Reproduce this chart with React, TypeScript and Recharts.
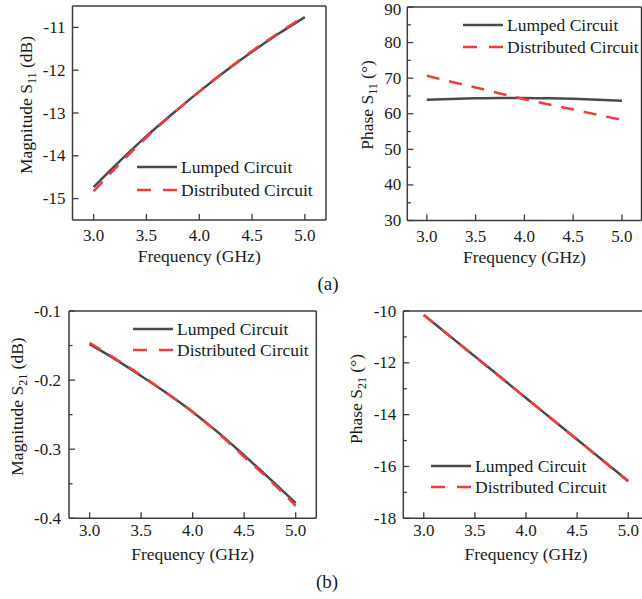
import React from "react";
import { LineChart, Line, XAxis, YAxis, ReferenceLine, Legend } from "recharts";

// frequency points (GHz)
const freq = [3.0, 3.25, 3.5, 3.75, 4.0, 4.25, 4.5, 4.75, 5.0];

// (a) S11
const s11MagLumped = [-14.73, -14.12, -13.54, -13.01, -12.5, -12.02, -11.57, -11.15, -10.76];
const s11MagDist = [-14.83, -14.18, -13.57, -13.02, -12.5, -12.01, -11.55, -11.13, -10.73];
const s11PhaseLumped = [63.9, 64.15, 64.35, 64.45, 64.45, 64.35, 64.2, 63.95, 63.65];
const s11PhaseDist = [70.7, 69.0, 67.4, 65.7, 64.1, 62.6, 61.2, 59.7, 58.3];

// (b) S21
const s21MagLumped = [-0.148, -0.17, -0.194, -0.219, -0.246, -0.276, -0.309, -0.343, -0.378];
const s21MagDist = [-0.146, -0.169, -0.193, -0.219, -0.246, -0.277, -0.311, -0.345, -0.382];
const s21PhaseLumped = [-10.15, -10.95, -11.75, -12.55, -13.36, -14.16, -14.96, -15.76, -16.56];
const s21PhaseDist = [-10.16, -10.96, -11.76, -12.56, -13.36, -14.16, -14.96, -15.77, -16.58];

const seriesNames = ["Lumped Circuit", "Distributed Circuit"];

// ticks
const freqTicks = [3.0, 3.5, 4.0, 4.5, 5.0];
const s11MagTicks = [-15, -14, -13, -12, -11];
const s11MagMinor: number[] = [];
const s11PhaseTicks = [30, 40, 50, 60, 70, 80, 90];
const s11PhaseMinor = [35, 45, 55, 65, 75, 85];
const s21MagTicks = [-0.4, -0.3, -0.2, -0.1];
const s21MagMinor = [-0.35, -0.25, -0.15];
const s21PhaseTicks = [-18, -16, -14, -12, -10];
const s21PhaseMinor = [-17, -15, -13, -11];

const FONT = "'Liberation Serif', 'Times New Roman', serif";
const AXIS = "#3c3c3c";
const TEXT = "#1a1a1a";
const LUMPED = "#4a4a4a";
const DIST = "#f03c3c";

const isMajor = (majors: number[], v: number) => majors.some((m) => Math.abs(m - v) < 1e-9);

function makeYTick(majors: number[], fmt: (v: number) => string, gap: number) {
  return (props: any) => {
    const { x, y, payload } = props;
    const v = payload.value;
    const major = isMajor(majors, v);
    return (
      <g>
        <line x1={x} x2={x + (major ? 6 : 3.5)} y1={y} y2={y} stroke={AXIS} strokeWidth={1.3} />
        {major && (
          <text
            x={x - gap}
            y={Math.max(y, 9.5)}
            textAnchor="end"
            dominantBaseline="central"
            fontSize={17}
            fill={TEXT}
            fontFamily={FONT}
          >
            {fmt(v)}
          </text>
        )}
      </g>
    );
  };
}

function makeXTick(gap: number) {
  return (props: any) => {
    const { x, y, payload } = props;
    return (
      <g>
        <line x1={x} x2={x} y1={y} y2={y - 6} stroke={AXIS} strokeWidth={1.3} />
        <text x={x} y={y + gap} textAnchor="middle" dominantBaseline="central" fontSize={17} fill={TEXT} fontFamily={FONT}>
          {payload.value.toFixed(1)}
        </text>
      </g>
    );
  };
}

type Panel = {
  box: [number, number, number, number]; // page x, y, w, h
  plot: [number, number, number, number]; // page L, T, R, B
  yDomain: [number, number];
  yMajor: number[];
  yMinor: number[];
  yFmt: (v: number) => string;
  yGap: number;
  xGap: number;
  lumped: number[];
  dist: number[];
  yTitle: [string, string, string];
  yTitlePos: [number, number]; // baseline x, center y
  xTitleY: number; // baseline y
  legend: [number, number, number]; // sample x, first row center y, row gap
};

const panels: Panel[] = [
  {
    box: [0, 0, 330, 272],
    plot: [72.5, 6, 326, 220],
    yDomain: [-15.5, -10.5],
    yMajor: s11MagTicks,
    yMinor: s11MagMinor,
    yFmt: (v) => String(v),
    yGap: 7,
    xGap: 15,
    lumped: s11MagLumped,
    dist: s11MagDist,
    yTitle: ["Magnitude S", "11", " (dB)"],
    yTitlePos: [31.5, 105],
    xTitleY: 262,
    legend: [137, 167, 23],
  },
  {
    box: [330, 0, 312, 272],
    plot: [407.3, 7, 641.5, 220.5],
    yDomain: [30, 90],
    yMajor: s11PhaseTicks,
    yMinor: s11PhaseMinor,
    yFmt: (v) => String(v),
    yGap: 6,
    xGap: 16,
    lumped: s11PhaseLumped,
    dist: s11PhaseDist,
    yTitle: ["Phase S", "11", " (°)"],
    yTitlePos: [373, 105],
    xTitleY: 263,
    legend: [463, 25, 22],
  },
  {
    box: [0, 290, 330, 282],
    plot: [69, 311, 316.3, 518.3],
    yDomain: [-0.4, -0.1],
    yMajor: s21MagTicks,
    yMinor: s21MagMinor,
    yFmt: (v) => v.toFixed(1),
    yGap: 8,
    xGap: 12,
    lumped: s21MagLumped,
    dist: s21MagDist,
    yTitle: ["Magnitude S", "21", " (dB)"],
    yTitlePos: [22.5, 406.5],
    xTitleY: 559.5,
    legend: [133, 329, 21],
  },
  {
    box: [330, 290, 330, 282],
    plot: [403.3, 311, 648.7, 518.3],
    yDomain: [-18, -10],
    yMajor: s21PhaseTicks,
    yMinor: s21PhaseMinor,
    yFmt: (v) => String(v),
    yGap: 7,
    xGap: 12,
    lumped: s21PhaseLumped,
    dist: s21PhaseDist,
    yTitle: ["Phase S", "21", " (°)"],
    yTitlePos: [361.5, 399],
    xTitleY: 559.5,
    legend: [431, 466, 21],
  },
];

function LegendBox({ gap }: { gap: number }) {
  return (
    <div style={{ fontFamily: FONT, fontSize: 17.5, color: TEXT }}>
      {seriesNames.map((n, i) => (
        <div key={n} style={{ display: "flex", alignItems: "center", height: gap, whiteSpace: "nowrap" }}>
          <svg width={40} height={8} style={{ display: "block" }}>
            <line
              x1={0}
              x2={40}
              y1={4}
              y2={4}
              stroke={i === 0 ? LUMPED : DIST}
              strokeWidth={2.5}
              strokeDasharray={i === 0 ? undefined : "14 12"}
            />
          </svg>
          <span style={{ marginLeft: 4 }}>{n}</span>
        </div>
      ))}
    </div>
  );
}

function PanelChart({ p }: { p: Panel }) {
  const [bx, by, bw, bh] = p.box;
  const [L, T, R, B] = p.plot;
  const data = freq.map((f, i) => ({ f, lumped: p.lumped[i], dist: p.dist[i] }));
  const yTicks = [...p.yMajor, ...p.yMinor].sort((a, b) => a - b);
  const [tx, ty] = p.yTitlePos;
  const xCenter = (L + R) / 2 - bx;
  const [lx, ly, lg] = p.legend;

  const yTitle = () => (
    <text
      transform={`translate(${tx - bx},${ty - by}) rotate(-90)`}
      textAnchor="middle"
      fontSize={17.5}
      fill={TEXT}
      fontFamily={FONT}
    >
      <tspan>{p.yTitle[0]}</tspan>
      <tspan dy={4} fontSize={12}>
        {p.yTitle[1]}
      </tspan>
      <tspan dy={-4}>{p.yTitle[2]}</tspan>
    </text>
  );
  const xTitle = () => (
    <text x={xCenter} y={p.xTitleY - by} textAnchor="middle" fontSize={17.5} fill={TEXT} fontFamily={FONT}>
      Frequency (GHz)
    </text>
  );

  return (
    <div style={{ position: "absolute", left: bx, top: by, width: bw, height: bh }}>
      <LineChart
        width={bw}
        height={bh}
        data={data}
        margin={{ left: 0, top: T - by, right: bx + bw - R, bottom: 0 }}
      >
        <XAxis
          dataKey="f"
          type="number"
          domain={[2.8, 5.2]}
          ticks={freqTicks}
          interval={0}
          height={by + bh - B}
          tickSize={0}
          tickMargin={0}
          tickLine={false}
          tick={makeXTick(p.xGap)}
          axisLine={{ stroke: AXIS, strokeWidth: 1.5 }}
          allowDataOverflow
          label={{ content: xTitle }}
        />
        <YAxis
          type="number"
          domain={p.yDomain}
          ticks={yTicks}
          interval={0}
          width={L - bx}
          tickSize={0}
          tickMargin={0}
          tickLine={false}
          tick={makeYTick(p.yMajor, p.yFmt, p.yGap)}
          axisLine={{ stroke: AXIS, strokeWidth: 1.5 }}
          allowDataOverflow
          label={{ content: yTitle }}
        />
        <ReferenceLine y={p.yDomain[1]} stroke={AXIS} strokeWidth={1.5} ifOverflow="visible" />
        <ReferenceLine x={5.2} stroke={AXIS} strokeWidth={1.5} ifOverflow="visible" />
        <Line
          type="monotone"
          dataKey="lumped"
          name={seriesNames[0]}
          stroke={LUMPED}
          strokeWidth={2.5}
          dot={false}
          activeDot={false}
          isAnimationActive={false}
        />
        <Line
          type="monotone"
          dataKey="dist"
          name={seriesNames[1]}
          stroke={DIST}
          strokeWidth={2.5}
          strokeDasharray="13 10"
          dot={false}
          activeDot={false}
          isAnimationActive={false}
        />
        <Legend
          layout="vertical"
          align="center"
          verticalAlign="middle"
          wrapperStyle={{ left: lx - bx, top: ly - lg / 2 - by, width: "auto" }}
          content={() => <LegendBox gap={lg} />}
        />
      </LineChart>
    </div>
  );
}

export default function App() {
  return (
    <div
      style={{
        position: "absolute",
        left: 0,
        top: 0,
        width: 642,
        height: 599,
        overflow: "hidden",
        background: "#fff",
        fontFamily: FONT,
      }}
    >
      {panels.map((p, i) => (
        <PanelChart key={i} p={p} />
      ))}
      <div style={{ position: "absolute", left: 298, top: 273, width: 60, textAlign: "center", fontSize: 19, color: TEXT }}>
        (a)
      </div>
      <div style={{ position: "absolute", left: 297, top: 571, width: 60, textAlign: "center", fontSize: 19, color: TEXT }}>
        (b)
      </div>
    </div>
  );
}
